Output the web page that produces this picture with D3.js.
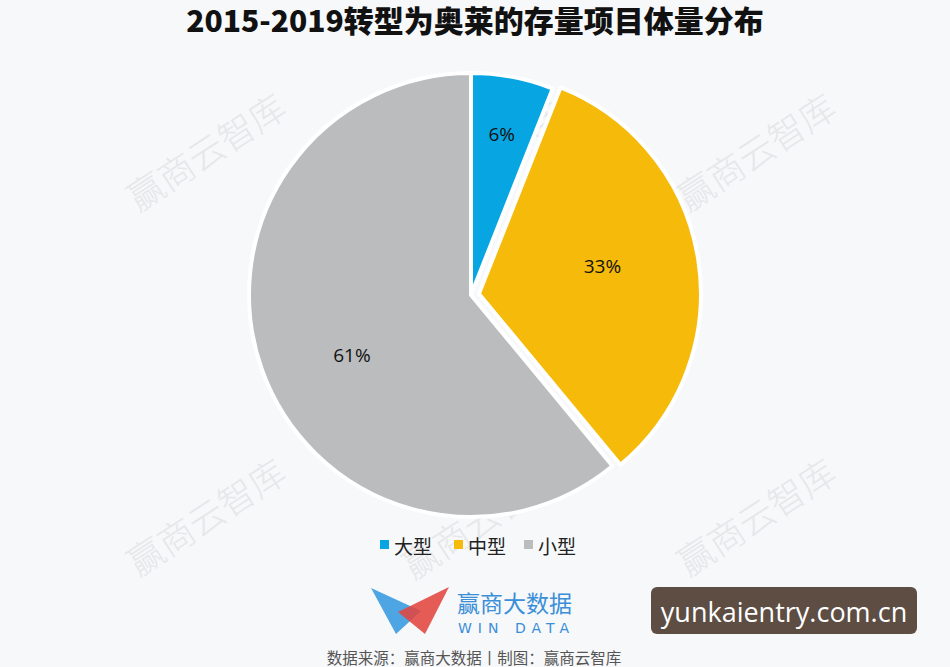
<!DOCTYPE html>
<meta charset="utf-8">
<style>
  body { margin: 0; padding: 0; background-color: #f7f8fa; }
  svg { display: block; }
  text { font-family: "Noto Sans CJK SC", "Noto Sans", sans-serif; }
  .title { font-size: 30px; font-weight: 900; fill: #111; }
  .label { font-size: 19px; fill: #111; font-family: "Open Sans", "Noto Sans", sans-serif; }
  .legend-text { font-size: 19px; fill: #222; }
  .watermark { font-size: 36px; fill: #e6e7e9; font-weight: 300; }
  .source { font-size: 15.5px; fill: #555; }
</style>
<script src="https://d3js.org/d3.v7.min.js"></script>
<body>
<div id="chart"></div>
<script>

// chart data
var categories = ["大型", "中型", "小型"];
var shares = [6, 33, 61];
var colors = ["#07a6e2", "#f5ba0a", "#bbbcbe"];

var width = 950, height = 667;
var cx = 471, cy = 295, radius = 222;

var svg = d3.select("#chart")
  .append("svg")
    .attr("width", width)
    .attr("height", height);

// background watermarks
var marks = [[205, 150], [480, 152], [755, 150], [205, 515], [480, 518], [755, 515]];
svg.append("g")
  .selectAll("text")
  .data(marks)
  .enter()
  .append("text")
    .attr("class", "watermark")
    .attr("text-anchor", "middle")
    .attr("dominant-baseline", "central")
    .attr("transform", function (d) { return "translate(" + d[0] + "," + d[1] + ") rotate(-33)"; })
    .text("赢商云智库");

// title
svg.append("text")
  .attr("class", "title")
  .attr("x", 475)
  .attr("y", 32)
  .attr("text-anchor", "middle")
  .text("2015-2019转型为奥莱的存量项目体量分布");

// pie
var data = categories.map(function (c, i) { return {name: c, value: shares[i], color: colors[i]}; });
var pie = d3.pie().sort(null).value(function (d) { return d.value; });
var arc = d3.arc().innerRadius(0).outerRadius(radius);
var arcs = pie(data);

// the middle slice is pulled out a little
function offset(d) {
  if (d.data.name !== "中型") return [0, 0];
  var a = (d.startAngle + d.endAngle) / 2;
  return [Math.sin(a) * 8, -Math.cos(a) * 8];
}

var g = svg.append("g")
  .attr("transform", "translate(" + cx + "," + cy + ")");

g.selectAll("path")
  .data(arcs)
  .enter()
  .append("path")
    .attr("d", arc)
    .attr("transform", function (d) { var o = offset(d); return "translate(" + o[0] + "," + o[1] + ")"; })
    .attr("fill", function (d) { return d.data.color; })
    .attr("stroke", "#ffffff")
    .attr("stroke-width", 4)
    .attr("stroke-linejoin", "round");

// labels: radius / angle nudges mimic the original best-fit placement
var labelPos = {"大型": [0.74, 0], "中型": [0.57, -0.06], "小型": [0.6, -0.12]};
g.selectAll(".label")
  .data(arcs)
  .enter()
  .append("text")
    .attr("class", "label")
    .attr("text-anchor", "middle")
    .attr("dominant-baseline", "central")
    .attr("transform", function (d) {
      var p = labelPos[d.data.name];
      var a = (d.startAngle + d.endAngle) / 2 + p[1];
      var o = offset(d);
      var x = Math.sin(a) * radius * p[0] + o[0];
      var y = -Math.cos(a) * radius * p[0] + o[1];
      return "translate(" + x + "," + y + ")";
    })
    .text(function (d) { return d.data.value + "%"; });

// legend
var legendX = [380, 454, 524];
var legend = svg.append("g").selectAll("g")
  .data(data)
  .enter()
  .append("g")
    .attr("transform", function (d, i) { return "translate(" + legendX[i] + ",545)"; });
legend.append("rect")
  .attr("x", 0).attr("y", -5)
  .attr("width", 9).attr("height", 9)
  .attr("fill", function (d) { return d.color; });
legend.append("text")
  .attr("class", "legend-text")
  .attr("x", 14)
  .attr("dominant-baseline", "central")
  .text(function (d) { return d.name; });

// WIN DATA logo
var logo = svg.append("g");
logo.append("path")
  .attr("d", "M371,588 L421,611 L396,634 Z")
  .attr("fill", "#3a9be0").attr("opacity", 0.9);
logo.append("path")
  .attr("d", "M449,587 L398,612 L425,634 Z")
  .attr("fill", "#e2463f").attr("opacity", 0.88);
logo.append("text")
  .attr("x", 457).attr("y", 612)
  .attr("font-size", 23)
  .attr("fill", "#3a8fd8")
  .text("赢商大数据");
logo.append("text")
  .attr("x", 458).attr("y", 633)
  .attr("font-size", 14)
  .attr("letter-spacing", 6)
  .attr("fill", "#3a8fd8")
  .attr("style", "font-family: 'DejaVu Sans', sans-serif")
  .text("WIN DATA");

// source
svg.append("text")
  .attr("class", "source")
  .attr("x", 474)
  .attr("y", 664)
  .attr("text-anchor", "middle")
  .text("数据来源：赢商大数据丨制图：赢商云智库");

// site badge
svg.append("rect")
  .attr("x", 651).attr("y", 587)
  .attr("width", 266).attr("height", 47)
  .attr("rx", 6)
  .attr("fill", "#5d4d43");
svg.append("text")
  .attr("x", 784).attr("y", 611)
  .attr("text-anchor", "middle")
  .attr("dominant-baseline", "central")
  .attr("font-size", 27)
  .attr("fill", "#ffffff")
  .attr("style", "font-family: 'Open Sans', sans-serif")
  .text("yunkaientry.com.cn");

</script>
</body>
